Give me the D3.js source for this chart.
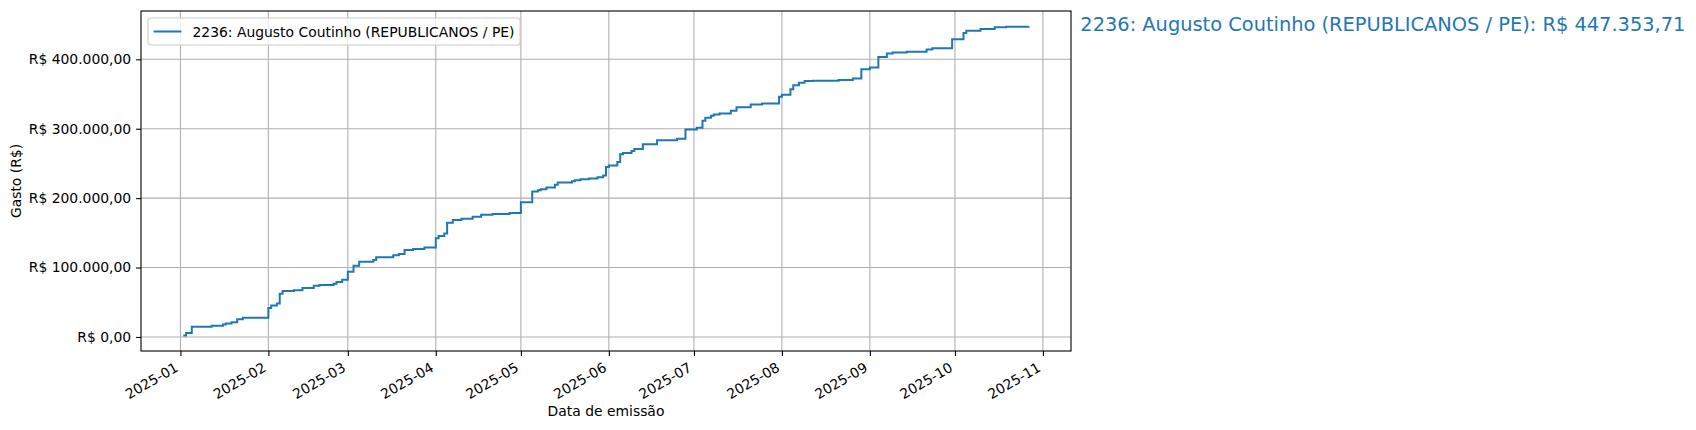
<!DOCTYPE html>
<html>
<head>
<meta charset="utf-8">
<script src="https://cdn.jsdelivr.net/npm/d3@7"></script>
<style>
  body { margin: 0; background: #fff; }
  text { font-family: "DejaVu Sans", sans-serif; }
</style>
</head>
<body>
<div id="vis"></div>
<script>
const frame_width = 1696;
const frame_height = 430;
const margins = {left: 141, right: 625, top: 11, bottom: 79};

const deputado = "2236: Augusto Coutinho (REPUBLICANOS / PE)";
const line_color = "#1f77b4";

// datas de emissão e gasto acumulado (R$)
const datas = [
  "2025-01-02", "2025-01-03", "2025-01-05", "2025-01-12", "2025-01-16",
  "2025-01-17", "2025-01-19", "2025-01-21", "2025-01-23", "2025-02-01", "2025-02-02",
  "2025-02-04", "2025-02-05", "2025-02-06", "2025-02-10", "2025-02-13", "2025-02-17",
  "2025-02-19", "2025-02-24", "2025-02-25", "2025-02-27", "2025-03-01", "2025-03-03",
  "2025-03-05", "2025-03-10", "2025-03-11", "2025-03-17", "2025-03-19", "2025-03-21",
  "2025-03-24", "2025-03-28", "2025-04-01", "2025-04-02", "2025-04-04", "2025-04-05",
  "2025-04-07", "2025-04-10", "2025-04-14", "2025-04-17", "2025-04-21", "2025-04-27",
  "2025-05-01", "2025-05-05", "2025-05-07", "2025-05-08", "2025-05-10", "2025-05-13",
  "2025-05-14", "2025-05-19", "2025-05-20", "2025-05-22", "2025-05-25", "2025-05-28",
  "2025-05-30", "2025-05-31", "2025-06-01", "2025-06-04", "2025-06-05", "2025-06-06",
  "2025-06-09", "2025-06-10", "2025-06-13", "2025-06-18", "2025-06-25", "2025-06-28",
  "2025-07-02", "2025-07-04", "2025-07-05", "2025-07-07", "2025-07-08", "2025-07-10",
  "2025-07-14", "2025-07-16", "2025-07-21", "2025-07-25", "2025-07-31", "2025-08-01",
  "2025-08-04", "2025-08-05", "2025-08-07", "2025-08-09", "2025-08-12", "2025-08-21",
  "2025-08-26", "2025-08-29", "2025-09-01", "2025-09-04", "2025-09-07", "2025-09-09",
  "2025-09-14", "2025-09-21", "2025-09-23", "2025-09-30", "2025-10-04", "2025-10-05",
  "2025-10-10", "2025-10-15", "2025-10-19", "2025-10-27"
];
const gasto_acumulado = [
  2000, 5500, 14800, 16200, 17800,
  19500, 21200, 25600, 27500, 41800, 45400,
  48000, 62100, 66200, 67400, 70500, 73600,
  74800, 76600, 79000, 82400, 94000, 102700,
  108500, 110900, 114700, 117600, 119600, 125400,
  126800, 128700, 142300, 145600, 149000, 164500,
  168400, 170300, 173200, 176100, 177200, 178400,
  194000, 209400, 211400, 212800, 215200, 219100,
  222500, 224400, 225900, 227300, 228300, 230200,
  232700, 244700, 247100, 252000, 263100, 265000,
  267900, 270800, 277500, 283300, 285700, 298800,
  301500, 311400, 315700, 318600, 320500, 321800,
  325900, 331000, 334800, 336500, 346000, 349000,
  357000, 362500, 366400, 368800, 369300, 370300,
  372200, 385700, 388100, 403400, 408400, 409900,
  410800, 414200, 415900, 429000, 438000, 441300,
  443800, 446300, 447000, 447353.71
];
const y_ticks = [0, 100000, 200000, 300000, 400000];

const parseDate = d3.utcParse("%Y-%m-%d");
const brl = d3.formatLocale({decimal: ",", thousands: ".", grouping: [3], currency: ["R$ ", ""]}).format("$,.2f");

const data = datas.map((d, i) => ({date: parseDate(d), value: gasto_acumulado[i]}));

const plot_w = frame_width - margins.left - margins.right;
const plot_h = frame_height - margins.top - margins.bottom;

const FRAME = d3.select("#vis")
  .append("svg")
    .attr("width", frame_width)
    .attr("height", frame_height);

// matplotlib-style 5% padding
const x_ext = d3.extent(data, d => d.date);
const x_pad = (x_ext[1] - x_ext[0]) * 0.05;
const X_SCALE = d3.scaleUtc()
  .domain([new Date(+x_ext[0] - x_pad), new Date(+x_ext[1] + x_pad)])
  .range([0, plot_w]);

const y_ext = d3.extent(data, d => d.value);
const y_pad = (y_ext[1] - y_ext[0]) * 0.05;
const Y_SCALE = d3.scaleLinear()
  .domain([y_ext[0] - y_pad, y_ext[1] + y_pad])
  .range([plot_h, 0]);

const x_ticks = d3.utcMonth.range(d3.utcMonth.ceil(X_SCALE.domain()[0]), X_SCALE.domain()[1]);

const G = FRAME.append("g")
  .attr("transform", "translate(" + margins.left + "," + margins.top + ")");

// grid
G.append("g")
  .selectAll("line")
  .data(x_ticks)
  .enter()
  .append("line")
    .attr("x1", d => X_SCALE(d)).attr("x2", d => X_SCALE(d))
    .attr("y1", 0).attr("y2", plot_h)
    .attr("stroke", "#b0b0b0").attr("stroke-width", 1.1);

G.append("g")
  .selectAll("line")
  .data(y_ticks)
  .enter()
  .append("line")
    .attr("x1", 0).attr("x2", plot_w)
    .attr("y1", d => Y_SCALE(d)).attr("y2", d => Y_SCALE(d))
    .attr("stroke", "#b0b0b0").attr("stroke-width", 1.1);

// line (steps-post)
const line = d3.line()
  .x(d => X_SCALE(d.date))
  .y(d => Y_SCALE(d.value))
  .curve(d3.curveStepAfter);

G.append("path")
  .datum(data)
  .attr("d", line)
  .attr("fill", "none")
  .attr("stroke", line_color)
  .attr("stroke-width", 2);

// axes
const x_axis = G.append("g")
  .attr("transform", "translate(0," + plot_h + ")")
  .call(d3.axisBottom(X_SCALE).tickValues(x_ticks).tickFormat(d3.utcFormat("%Y-%m")).tickSize(4.9).tickPadding(4.9));
x_axis.select(".domain").remove();
x_axis.selectAll("line").attr("stroke", "#000").attr("stroke-width", 1.1);
x_axis.selectAll("text")
  .attr("font-size", "13.9px")
  .attr("fill", "#000")
  .attr("text-anchor", "end")
  .attr("dy", null)
  .attr("y", null)
  .attr("transform", "translate(-1.7,19.4) rotate(-30)");

const y_axis = G.append("g")
  .call(d3.axisLeft(Y_SCALE).tickValues(y_ticks).tickFormat(brl).tickSize(4.9).tickPadding(4.9));
y_axis.select(".domain").remove();
y_axis.selectAll("line").attr("stroke", "#000").attr("stroke-width", 1.1);
y_axis.selectAll("text").attr("font-size", "13.9px").attr("fill", "#000");

// frame
G.append("rect")
  .attr("width", plot_w).attr("height", plot_h)
  .attr("fill", "none").attr("stroke", "#000").attr("stroke-width", 1.1);

// labels
FRAME.append("text")
  .attr("x", margins.left + plot_w / 2)
  .attr("y", 416)
  .attr("text-anchor", "middle")
  .attr("font-size", "13.9px")
  .text("Data de emissão");

FRAME.append("text")
  .attr("transform", "translate(21," + (margins.top + plot_h / 2) + ") rotate(-90)")
  .attr("text-anchor", "middle")
  .attr("font-size", "13.9px")
  .text("Gasto (R$)");

// legend
const legend = G.append("g").attr("transform", "translate(7,7)");
const legend_box = legend.append("rect")
  .attr("height", 27).attr("rx", 2.8)
  .attr("fill", "#fff").attr("fill-opacity", 0.8)
  .attr("stroke", "#cccccc").attr("stroke-width", 1.1);
legend.append("line")
  .attr("x1", 5.6).attr("x2", 33.4)
  .attr("y1", 13.5).attr("y2", 13.5)
  .attr("stroke", line_color).attr("stroke-width", 2);
const legend_text = legend.append("text")
  .attr("x", 44.5).attr("y", 18.5)
  .attr("font-size", "13.9px")
  .text(deputado);
legend_box.attr("width", 44.5 + legend_text.node().getComputedTextLength() + 5.6);

// total at the right
FRAME.append("text")
  .attr("x", margins.left + plot_w + 9.3)
  .attr("y", 30.5)
  .attr("font-size", "19.4px")
  .attr("fill", line_color)
  .text(deputado + ": " + brl(gasto_acumulado[gasto_acumulado.length - 1]));
</script>
</body>
</html>
